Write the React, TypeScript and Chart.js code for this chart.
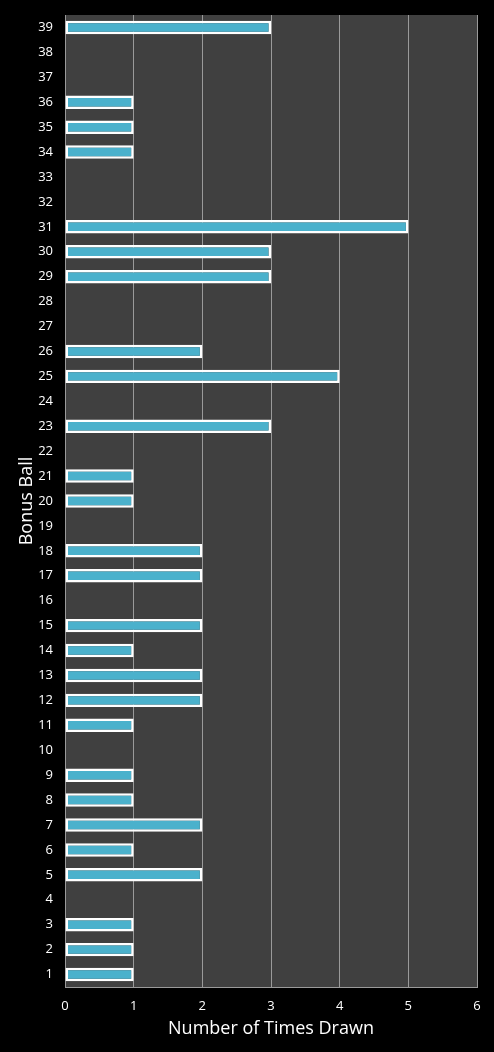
import React, { useEffect, useRef } from "react";
import { Chart, registerables } from "chart.js";

Chart.register(...registerables);

const balls = Array.from({ length: 39 }, (_, i) => String(i + 1));
// counts for balls 1..39
const timesDrawn = [
  1, 1, 1, 0, 2, 1, 2, 1, 1, 0,
  1, 2, 2, 1, 2, 0, 2, 2, 0, 1,
  1, 0, 3, 0, 4, 2, 0, 0, 3, 3,
  5, 0, 0, 1, 1, 1, 0, 0, 3,
];
const xTicks = [0, 1, 2, 3, 4, 5, 6];

const plotBg = {
  id: "plotBg",
  beforeDraw(chart: any) {
    const { ctx, chartArea } = chart;
    ctx.save();
    ctx.fillStyle = "#404040";
    ctx.fillRect(chartArea.left, chartArea.top, chartArea.right - chartArea.left, chartArea.bottom - chartArea.top);
    ctx.restore();
  },
};

export default function App() {
  const ref = useRef<HTMLCanvasElement>(null);
  useEffect(() => {
    const chart = new Chart(ref.current!, {
      type: "bar",
      data: {
        labels: balls,
        datasets: [
          {
            data: timesDrawn,
            backgroundColor: "#4BB1CC",
            borderColor: "#FFFFFF",
            borderWidth: 2.5,
            borderSkipped: false,
            categoryPercentage: 1,
            barPercentage: 0.54,
          },
        ],
      },
      options: {
        indexAxis: "y",
        animation: false,
        responsive: false,
        maintainAspectRatio: false,
        layout: { padding: { top: 15, right: 17, left: 0, bottom: 0 } },
        plugins: { legend: { display: false }, tooltip: { enabled: false } },
        scales: {
          x: {
            min: 0,
            max: 6,
            afterFit: (s: any) => { s.height = 65; s.paddingLeft = 0; s.paddingRight = 0; },
            afterBuildTicks: (s: any) => { s.ticks = xTicks.map((v) => ({ value: v })); },
            grid: { color: "#9a9a9a", lineWidth: 1, drawTicks: false },
            border: { color: "#9a9a9a" },
            ticks: { color: "#ffffff", font: { family: "Open Sans", size: 13 }, padding: 11 },
            title: {
              display: true,
              text: "Number of Times Drawn",
              color: "#ffffff",
              font: { family: "Open Sans", size: 18 },
              padding: { top: 0, bottom: 12 },
            },
          },
          y: {
            reverse: true,
            afterFit: (s: any) => { s.width = 65; s.paddingTop = 0; s.paddingBottom = 0; },
            grid: { display: false, drawTicks: false },
            border: { color: "#9a9a9a" },
            ticks: { color: "#ffffff", font: { family: "Open Sans", size: 13 }, padding: 12, autoSkip: false },
            title: {
              display: true,
              text: "Bonus Ball",
              color: "#ffffff",
              font: { family: "Open Sans", size: 18 },
              padding: { top: 16, bottom: 0 },
            },
          },
        },
      },
      plugins: [plotBg],
    });
    return () => chart.destroy();
  }, []);
  return (
    <div style={{ position: "fixed", left: 0, top: 0, width: 494, height: 1052, background: "#000" }}>
      <canvas ref={ref} width={494} height={1052} style={{ display: "block" }} />
    </div>
  );
}
